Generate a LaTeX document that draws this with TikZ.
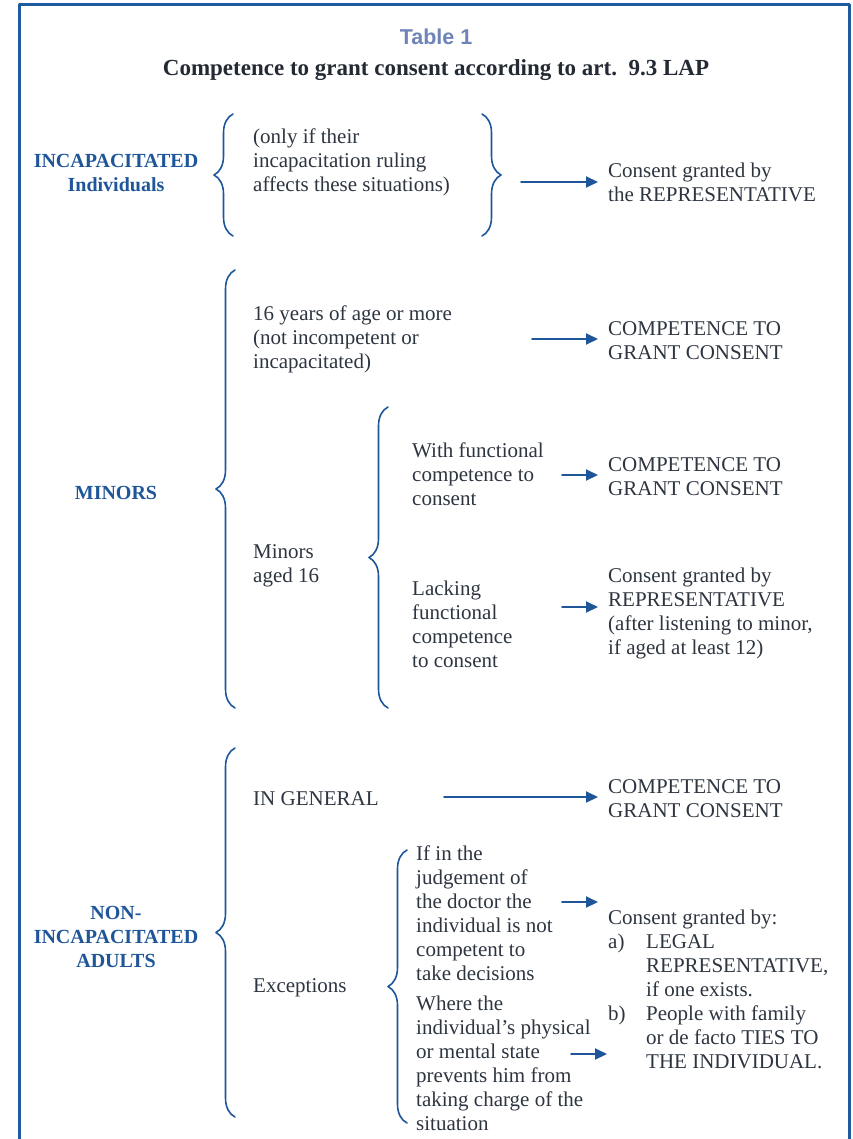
\documentclass[tikz,border=0pt]{standalone}
\usepackage{fontspec}
\setmainfont{Liberation Serif}
\newfontfamily\tabfont{Liberation Sans}
\usetikzlibrary{arrows.meta,decorations.pathreplacing}
\definecolor{framebl}{HTML}{1D5A9E}
\definecolor{headbl}{HTML}{1F5699}
\definecolor{textgr}{HTML}{2D3540}
\definecolor{tabbl}{HTML}{6E83B6}
\tikzset{
	txt/.style={anchor=base west,inner sep=0pt,align=left,text=textgr,font=\fontsize{21}{24}\selectfont},
	res/.style={txt,inner xsep=10pt},
	head/.style={anchor=base,inner sep=0pt,align=center,text=headbl,font=\fontsize{20}{24}\selectfont\bfseries},
	brc/.style={draw=headbl,line width=1.6pt,decorate,decoration={brace,amplitude=19pt}},
	arr/.style={-{Triangle[length=12pt,width=11pt]},draw=headbl,fill=headbl,line width=2pt}
}
\begin{document}
\begin{tikzpicture}[x=1pt,y=-1pt,line cap=round,line join=round]
		\useasboundingbox (0,0) rectangle (852,1139);
		\draw[framebl,line width=3pt,line cap=butt] (19,1140) |- (849.5,5) -- (849.5,1140);
		\node[anchor=base,inner sep=0pt,text=tabbl,font=\tabfont\fontsize{21.5}{24}\selectfont\bfseries] (tab) at (436,45) {Table 1};
		\node[anchor=base,inner sep=0pt,text=textgr!80!black,font=\fontsize{23}{24}\selectfont\bfseries] (title) at (436,76) {Competence to grant consent according to art.\ \ 9.3 LAP};
		\node[head] (incap) at (116,192) {INCAPACITATED\\Individuals};
		\draw[brc] (233,236) -- (233,114);
		\node[txt] (only) at (253,192) {(only if their\\incapacitation ruling\\affects these situations)};
		\draw[brc] (482,114) -- (482,236);
		\coordinate (s1) at (521,182);
		\node[res] (cons1) at (598,202) {Consent granted by\\the REPRESENTATIVE};
		\draw[arr] (s1) -- (cons1.west |- s1);
		\node[head] (minors) at (116,499) {MINORS};
		\draw[brc] (235,708) -- (235,270);
		\node[txt] (sixteen) at (253,368) {16 years of age or more\\(not incompetent or\\incapacitated)};
		\coordinate (s2) at (532,339);
		\node[res] (comp1) at (598,359) {COMPETENCE TO\\GRANT CONSENT};
		\draw[arr] (s2) -- (comp1.west |- s2);
		\node[txt] (aged) at (253,582) {Minors\\aged 16};
		\draw[brc] (388,708) -- (388,407);
		\node[txt] (withf) at (412,505) {With functional\\competence to\\consent};
		\coordinate (s3) at (562,475);
		\node[res] (comp2) at (598,495) {COMPETENCE TO\\GRANT CONSENT};
		\draw[arr] (s3) -- (comp2.west |- s3);
		\node[txt] (lacking) at (412,667) {Lacking\\functional\\competence\\to consent};
		\coordinate (s4) at (562,607);
		\node[res] (cons2) at (598,654) {Consent granted by\\REPRESENTATIVE\\(after listening to minor,\\if aged at least 12)};
		\draw[arr] (s4) -- (cons2.west |- s4);
		\node[head] (adults) at (116,967) {NON-\\INCAPACITATED\\ADULTS};
		\draw[brc] (235,1117) -- (235,748);
		\node[txt] (general) at (253,805) {IN GENERAL};
		\coordinate (s5) at (444,797);
		\node[res] (comp3) at (598,817) {COMPETENCE TO\\GRANT CONSENT};
		\draw[arr] (s5) -- (comp3.west |- s5);
		\node[txt] (exc) at (253,992) {Exceptions};
		\draw[brc] (407,1123) -- (407,850);
		\node[txt] (judge) at (416,980) {If in the\\judgement of\\the doctor the\\individual is not\\competent to\\take decisions};
		\node[txt] (where) at (416,1130) {Where the\\individual’s physical\\or mental state\\prevents him from\\taking charge of the\\situation};
		\node[res] (cons3) at (598,1068) {Consent granted by:\\\makebox[38pt][l]{a)}LEGAL\\\hspace*{38pt}REPRESENTATIVE,\\\hspace*{38pt}if one exists.\\\makebox[38pt][l]{b)}People with family\\\hspace*{38pt}or de facto TIES TO\\\hspace*{38pt}THE INDIVIDUAL.};
		\coordinate (s6) at (562,902);
		\coordinate (s7) at (571,1054);
		\draw[arr] (s6) -- (cons3.west |- s6);
		\draw[arr] (s7) -- ([xshift=9pt]cons3.west |- s7);
	\end{tikzpicture}
\end{document}
